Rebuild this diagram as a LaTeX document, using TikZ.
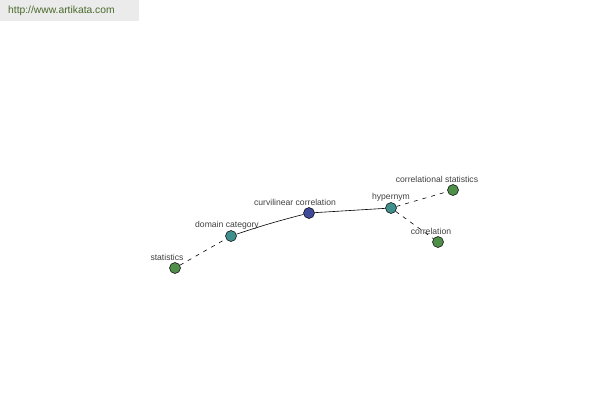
\documentclass[tikz,border=0pt]{standalone}
\usepackage{fontspec}
\setmainfont{Liberation Sans}
\begin{document}
\begin{tikzpicture}[x=1pt,y=-1pt,
  vtx/.style={circle,draw=black,line width=0.5pt,minimum size=11pt,inner sep=0pt},
  lbl/.style={font=\fontsize{8.6}{10}\selectfont,text=black!75,inner sep=0pt},
  rel/.style={line width=0.6pt,black},
  relx/.style={line width=0.6pt,black,dash pattern=on 4pt off 5pt}]
\useasboundingbox (0,0) rectangle (600,400);
\definecolor{urlc}{HTML}{4A6A2A}
\fill[black!8] (0,0) rectangle (139,21);
\node[font=\fontsize{10.3}{12}\selectfont,text=urlc,anchor=west,inner sep=0pt] (url) at (8,11) {http://www.artikata.com};
\definecolor{cgreen}{HTML}{4F8F4A}
\definecolor{cteal}{HTML}{3F8F8C}
\definecolor{cblue}{HTML}{3F4A99}
\node[vtx,fill=cgreen] (st) at (175,268) {};
\node[vtx,fill=cteal] (dc) at (231,236) {};
\node[vtx,fill=cblue] (cc) at (309,213) {};
\node[vtx,fill=cteal] (hy) at (391,208) {};
\node[vtx,fill=cgreen] (cs) at (453,190) {};
\node[vtx,fill=cgreen] (co) at (438,242) {};
\draw[relx] (st) -- (dc);
\draw[rel] (dc) to[bend left=2] (cc);
\draw[rel] (cc) -- (hy);
\draw[relx] (hy) -- (cs);
\draw[relx] (hy) -- (co);
\node[lbl] (lst) at (167,257) {statistics};
\node[lbl] (ldc) at (227,225) {domain category};
\node[lbl] (lcc) at (295,202) {curvilinear correlation};
\node[lbl] (lhy) at (391,197) {hypernym};
\node[lbl] (lcs) at (437,179) {correlational statistics};
\node[lbl] (lco) at (431,231) {correlation};
\end{tikzpicture}
\end{document}
